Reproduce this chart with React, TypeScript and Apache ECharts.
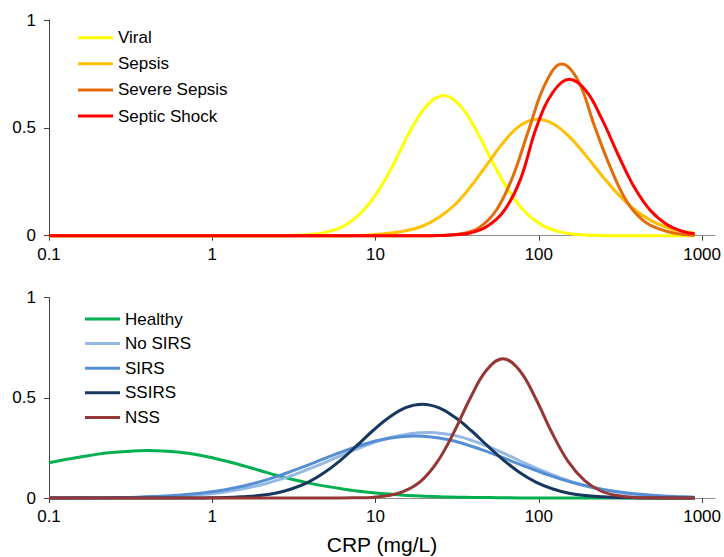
import { useEffect, useRef } from "react";
import * as echarts from "echarts";

// CRP concentration (mg/L) and fitted density for each diagnosis group.

// --- Upper panel ---
const viralCrp = [0.1, 2.61, 3.28, 4.13, 5.2, 6.55, 8.24, 10.4, 13.1, 16.4, 20.7, 26.1, 32.8, 41.3, 52, 65.5, 82.4, 104, 131, 164, 207, 261, 900];
const viralDensity = [0, 0, 0.002, 0.007, 0.02, 0.05, 0.11, 0.208, 0.342, 0.489, 0.605, 0.65, 0.605, 0.489, 0.342, 0.208, 0.11, 0.05, 0.02, 0.007, 0.002, 0, 0];

const sepsisCrp = [0.1, 6.17, 7.76, 9.77, 12.3, 15.5, 19.5, 24.5, 30.9, 38.9, 49, 61.7, 77.6, 97.7, 123, 155, 195, 245, 309, 389, 490, 617, 776, 900];
const sepsisDensity = [0, 0, 0.001, 0.005, 0.012, 0.024, 0.045, 0.085, 0.147, 0.235, 0.338, 0.439, 0.513, 0.54, 0.518, 0.456, 0.37, 0.276, 0.189, 0.119, 0.069, 0.037, 0.018, 0.011];

const severeSepsisCrp = [0.1, 21.9, 27.5, 34.7, 43.7, 55, 69.2, 87.1, 110, 138, 174, 219, 275, 347, 437, 550, 692, 900];
const severeSepsisDensity = [0, 0, 0.002, 0.011, 0.041, 0.119, 0.273, 0.495, 0.707, 0.796, 0.719, 0.51, 0.315, 0.157, 0.07, 0.03, 0.01, 0.002];

const septicShockCrp = [0.1, 19.4, 24.4, 30.7, 38.6, 48.6, 61.2, 77.1, 97, 122, 154, 194, 244, 307, 386, 486, 612, 771, 900];
const septicShockDensity = [0, 0, 0.001, 0.004, 0.014, 0.045, 0.115, 0.26, 0.505, 0.665, 0.725, 0.673, 0.539, 0.373, 0.222, 0.114, 0.051, 0.019, 0.009];

// --- Lower panel ---
const healthyCrp = [0.1, 0.126, 0.158, 0.2, 0.251, 0.316, 0.398, 0.501, 0.631, 0.794, 1, 1.26, 1.58, 2, 2.51, 3.16, 3.98, 5.01, 6.31, 7.94, 10, 12.6, 15.8, 20, 25.1, 31.6, 39.8, 50.1, 63.1, 100, 900];
const healthyDensity = [0.176, 0.192, 0.206, 0.219, 0.228, 0.234, 0.237, 0.235, 0.228, 0.217, 0.201, 0.181, 0.159, 0.135, 0.112, 0.091, 0.073, 0.058, 0.045, 0.034, 0.025, 0.019, 0.013, 0.009, 0.006, 0.004, 0.003, 0.002, 0.001, 0, 0];

const noSirsCrp = [0.1, 0.132, 0.209, 0.263, 0.331, 0.417, 0.525, 0.661, 0.832, 1.05, 1.32, 1.66, 2.09, 2.63, 3.31, 4.17, 5.25, 6.61, 8.32, 10.5, 13.2, 16.6, 20.9, 26.3, 33.1, 41.7, 52.5, 66.1, 83.2, 105, 132, 166, 209, 263, 331, 417, 525, 661, 900];
const noSirsDensity = [0, 0, 0.0007, 0.001, 0.002, 0.004, 0.006, 0.01, 0.016, 0.024, 0.036, 0.051, 0.07, 0.094, 0.122, 0.154, 0.188, 0.223, 0.256, 0.285, 0.307, 0.322, 0.327, 0.321, 0.305, 0.279, 0.246, 0.21, 0.172, 0.137, 0.105, 0.077, 0.055, 0.038, 0.025, 0.016, 0.01, 0.006, 0.003];

const sirsCrp = [0.1, 0.174, 0.219, 0.275, 0.347, 0.437, 0.55, 0.692, 0.871, 1.1, 1.38, 1.74, 2.19, 2.75, 3.47, 4.37, 5.5, 6.92, 8.71, 11, 13.8, 17.4, 21.9, 27.5, 34.7, 43.7, 55, 69.2, 87.1, 110, 138, 174, 219, 275, 347, 437, 550, 692, 900];
const sirsDensity = [0, 0.001, 0.0015, 0.0025, 0.004, 0.007, 0.011, 0.017, 0.025, 0.036, 0.051, 0.07, 0.093, 0.12, 0.15, 0.182, 0.214, 0.244, 0.271, 0.292, 0.305, 0.31, 0.305, 0.292, 0.271, 0.244, 0.214, 0.182, 0.15, 0.12, 0.093, 0.07, 0.051, 0.036, 0.025, 0.017, 0.011, 0.007, 0.004];

const ssirsCrp = [0.1, 0.484, 0.767, 0.966, 1.22, 1.53, 1.93, 2.43, 3.05, 3.85, 4.84, 6.1, 7.67, 9.66, 12.2, 15.3, 19.3, 24.3, 30.5, 38.5, 48.4, 61, 76.7, 96.6, 122, 153, 193, 243, 305, 385, 484, 610, 900];
const ssirsDensity = [0, 0, 0, 0.001, 0.002, 0.006, 0.012, 0.024, 0.045, 0.078, 0.126, 0.188, 0.261, 0.337, 0.404, 0.451, 0.468, 0.451, 0.404, 0.337, 0.261, 0.188, 0.126, 0.078, 0.045, 0.024, 0.012, 0.006, 0.002, 0.001, 0, 0, 0];

const nssCrp = [0.1, 6.03, 7.59, 9.55, 12, 15.1, 19.1, 24, 30.2, 38, 47.9, 60.3, 75.9, 95.5, 120, 151, 191, 240, 302, 380, 479, 603, 900];
const nssDensity = [0, 0, 0.001, 0.003, 0.012, 0.035, 0.087, 0.183, 0.328, 0.498, 0.639, 0.695, 0.639, 0.498, 0.328, 0.183, 0.087, 0.035, 0.012, 0.003, 0.001, 0, 0];

const yTicks = { min: 0, max: 1, interval: 0.5 };
const xRange = { min: 0.1, max: 1000 };
const xTitle = "CRP (mg/L)";

type Curve = { name: string; color: string; crp: number[]; density: number[] };

const upperCurves: Curve[] = [
  { name: "Viral", color: "#FFFF00", crp: viralCrp, density: viralDensity },
  { name: "Sepsis", color: "#FFC000", crp: sepsisCrp, density: sepsisDensity },
  { name: "Severe Sepsis", color: "#E46C0A", crp: severeSepsisCrp, density: severeSepsisDensity },
  { name: "Septic Shock", color: "#FF0000", crp: septicShockCrp, density: septicShockDensity },
];

const lowerCurves: Curve[] = [
  { name: "Healthy", color: "#00B050", crp: healthyCrp, density: healthyDensity },
  { name: "No SIRS", color: "#95B9E5", crp: noSirsCrp, density: noSirsDensity },
  { name: "SIRS", color: "#558ED5", crp: sirsCrp, density: sirsDensity },
  { name: "SSIRS", color: "#17375E", crp: ssirsCrp, density: ssirsDensity },
  { name: "NSS", color: "#953735", crp: nssCrp, density: nssDensity },
];

const FONT = '"Liberation Sans", Arial, Helvetica, sans-serif';

function buildOption() {
  const plotLeft = 49;
  const plotWidth = 654;
  const lineWidth = 666;
  const panels = [
    { top: 20, height: 215.7 },
    { top: 297.7, height: 200.3 },
  ];

  const grid: any[] = [];
  panels.forEach((p) => {
    grid.push({ left: plotLeft, top: p.top, width: plotWidth, height: p.height });
    grid.push({ left: plotLeft, top: p.top, width: lineWidth, height: p.height });
  });

  const xAxis: any[] = [];
  const yAxis: any[] = [];
  panels.forEach((_, i) => {
    const plotGrid = i * 2;
    const lineGrid = i * 2 + 1;
    xAxis.push({
      type: "log",
      logBase: 10,
      gridIndex: plotGrid,
      min: xRange.min,
      max: xRange.max,
      axisLine: { show: false },
      axisTick: { show: true, length: 5, lineStyle: { color: "#404040", width: 1 } },
      minorTick: { show: false },
      splitLine: { show: false },
      axisLabel: {
        fontSize: 17,
        color: "#000",
        fontFamily: FONT,
        margin: 10,
        formatter: (v: number) => String(Number(Number(v).toPrecision(3))),
      },
    });
    // plain baseline running slightly past the last tick
    xAxis.push({
      type: "value",
      gridIndex: lineGrid,
      min: 0,
      max: 1,
      axisLine: { show: true, lineStyle: { color: "#8C8C8C", width: 1 } },
      axisTick: { show: false },
      axisLabel: { show: false },
      splitLine: { show: false },
      ...(i === 1
        ? {
            name: xTitle,
            nameLocation: "middle",
            nameGap: 36,
            nameTextStyle: { fontSize: 21, color: "#000", fontFamily: FONT },
          }
        : {}),
    });
    yAxis.push({
      type: "value",
      gridIndex: plotGrid,
      min: yTicks.min,
      max: yTicks.max,
      interval: yTicks.interval,
      axisLine: { show: true, lineStyle: { color: "#404040", width: 1 } },
      axisTick: { show: true, length: 5, lineStyle: { color: "#404040", width: 1 } },
      splitLine: { show: false },
      axisLabel: { fontSize: 17, color: "#000", fontFamily: FONT, margin: 13 },
    });
    yAxis.push({ type: "value", gridIndex: lineGrid, min: 0, max: 1, show: false });
  });

  const toSeries = (c: Curve, axisIndex: number) => ({
    type: "line",
    name: c.name,
    xAxisIndex: axisIndex,
    yAxisIndex: axisIndex,
    data: c.crp.map((x, k) => [x, c.density[k]]),
    color: c.color,
    smooth: 0.4,
    symbol: "none",
    showSymbol: false,
    lineStyle: { width: 3, color: c.color },
    clip: false,
  });

  const series = [
    ...upperCurves.map((c) => toSeries(c, 0)),
    ...lowerCurves.map((c) => toSeries(c, 2)),
  ];

  const legendBase = {
    orient: "vertical",
    icon: "rect",
    itemWidth: 35,
    itemHeight: 3,
    padding: 0,
    selectedMode: false,
    textStyle: { fontSize: 17, lineHeight: 20, color: "#000", fontFamily: FONT },
  };

  return {
    animation: false,
    backgroundColor: "#ffffff",
    grid,
    xAxis,
    yAxis,
    legend: [
      { ...legendBase, data: upperCurves.map((c) => c.name), left: 78, top: 27.7, itemGap: 6.1 },
      { ...legendBase, data: lowerCurves.map((c) => c.name), left: 85, top: 309, itemGap: 4.6 },
    ],
    series,
  };
}

export default function App() {
  const ref = useRef<HTMLDivElement>(null);

  useEffect(() => {
    if (!ref.current) return;
    const chart = echarts.init(ref.current, undefined, { renderer: "svg" });
    chart.setOption(buildOption() as any);
    return () => chart.dispose();
  }, []);

  return (
    <div
      ref={ref}
      style={{ position: "fixed", left: 0, top: 0, width: 724, height: 557, background: "#fff" }}
    />
  );
}
